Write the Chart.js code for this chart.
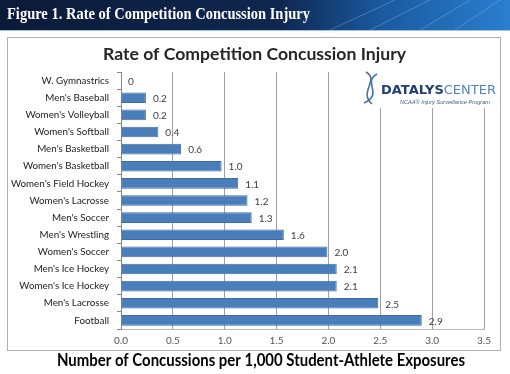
<!DOCTYPE html>
<html>
<head>
<meta charset="utf-8">
<script src="https://cdn.jsdelivr.net/npm/chart.js@4/dist/chart.umd.min.js"></script>
<style>
  html, body { margin: 0; padding: 0; background: #fff; }
  #wrap { width: 510px; height: 374px; }
</style>
</head>
<body>
<div id="wrap"><canvas id="chart" width="510" height="374"></canvas></div>
<script>
// sports, top to bottom as shown
const sports = [
    'W. Gymnastrics', "Men's Baseball", "Women's Volleyball", "Women's Softball",
    "Men's Basketball", "Women's Basketball", "Women's Field Hockey", "Women's Lacrosse",
    "Men's Soccer", "Men's Wrestling", "Women's Soccer", "Men's Ice Hockey",
    "Women's Ice Hockey", "Men's Lacrosse", 'Football'
];
// concussions per 1,000 athlete exposures (bar lengths)
const rates = [0, 0.24, 0.24, 0.36, 0.58, 0.97, 1.13, 1.22, 1.26, 1.57, 1.99, 2.08, 2.08, 2.48, 2.90];
// printed labels next to bars
const rateLabels = ['0', '0.2', '0.2', '0.4', '0.6', '1.0', '1.1', '1.2', '1.3', '1.6', '2.0', '2.1', '2.1', '2.5', '2.9'];
const xMax = 3.5;
const xStep = 0.5;

const figureTitle = 'Figure 1. Rate of Competition Concussion Injury';
const chartTitle = 'Rate of Competition Concussion Injury';
const axisTitle = 'Number of Concussions per 1,000 Student-Athlete Exposures';
const labelFont = 'Lato, "Open Sans", sans-serif';
const serifFont = '"Liberation Serif", "DejaVu Serif", serif';

// draw text squeezed/stretched horizontally to a given width
function fitText(ctx, text, x, y, width) {
    const w = ctx.measureText(text).width;
    ctx.save();
    ctx.translate(x, y);
    ctx.scale(width / w, 1);
    ctx.fillText(text, 0, 0);
    ctx.restore();
}

// banner, frame, titles, value labels and logo
const decor = {
    id: 'decor',
    beforeDraw(chart) {
        const ctx = chart.ctx;
        ctx.save();
        ctx.fillStyle = '#fff';
        ctx.fillRect(0, 0, chart.width, chart.height);

        // top banner
        const g = ctx.createLinearGradient(0, 0, chart.width, 0);
        g.addColorStop(0, '#0b1a38');
        g.addColorStop(0.55, '#0f2750');
        g.addColorStop(0.75, '#1a5aa0');
        g.addColorStop(1, '#2a7fcf');
        ctx.fillStyle = g;
        ctx.fillRect(0, 0, chart.width, 30);
        ctx.strokeStyle = 'rgba(160,200,240,0.35)';
        ctx.lineWidth = 1;
        [[330, 395], [370, 430], [420, 470], [455, 500]].forEach(([a, b]) => {
            ctx.beginPath();
            ctx.moveTo(b, 0);
            ctx.lineTo(a, 30);
            ctx.stroke();
        });
        ctx.fillStyle = '#9cc4e8';
        ctx.fillRect(0, 30, chart.width, 1);

        ctx.fillStyle = '#fff';
        ctx.font = 'bold 17px ' + serifFont;
        ctx.textBaseline = 'middle';
        fitText(ctx, figureTitle, 7, 15, 303);

        // chart frame
        ctx.strokeStyle = '#b0b0b0';
        ctx.strokeRect(7.5, 37.5, 493, 313);

        // titles
        ctx.fillStyle = '#262626';
        ctx.font = 'bold 17.5px ' + labelFont;
        fitText(ctx, chartTitle, 103, 54, 303);
        ctx.fillStyle = '#000';
        ctx.font = 'bold 16.5px ' + labelFont;
        fitText(ctx, axisTitle, 57, 361, 408);
        ctx.restore();
    },
    afterDatasetsDraw(chart) {
        const ctx = chart.ctx;
        ctx.save();
        ctx.font = '10px ' + labelFont;
        ctx.fillStyle = '#404040';
        ctx.textBaseline = 'middle';
        chart.getDatasetMeta(0).data.forEach((bar, i) => {
            ctx.fillText(rateLabels[i], bar.x + 7, bar.y + 1);
        });

        // logo block (covers grid lines behind it)
        ctx.fillStyle = '#fff';
        ctx.fillRect(356, 70, 135, 38);
        ctx.lineWidth = 1.6;
        ctx.strokeStyle = '#5a6f88';
        ctx.beginPath();
        ctx.moveTo(366, 72);
        ctx.bezierCurveTo(380, 80, 358, 92, 372, 104);
        ctx.stroke();
        ctx.strokeStyle = '#3b72b0';
        ctx.beginPath();
        ctx.moveTo(377, 74);
        ctx.bezierCurveTo(362, 82, 384, 94, 364, 103);
        ctx.stroke();
        ctx.font = 'bold 13px "DejaVu Sans", sans-serif';
        ctx.fillStyle = '#1f3f72';
        ctx.textBaseline = 'alphabetic';
        ctx.fillText('DATALYS', 381, 94);
        const w = ctx.measureText('DATALYS').width;
        ctx.font = '13px "DejaVu Sans", sans-serif';
        ctx.fillStyle = '#4a86c6';
        ctx.fillText('CENTER', 381 + w, 94);
        ctx.font = 'italic 5.6px "Liberation Sans", sans-serif';
        ctx.fillStyle = '#3a5f8f';
        ctx.fillText('NCAA\u00ae Injury Surveillance Program', 400, 104);
        ctx.restore();
    }
};

new Chart(document.getElementById('chart'), {
    type: 'bar',
    data: {
        labels: sports,
        datasets: [{
            data: rates,
            backgroundColor: '#4a7ebb',
            borderColor: '#3d6ca6',
            borderWidth: 1,
            borderSkipped: 'left',
            categoryPercentage: 1,
            barPercentage: 0.62
        }]
    },
    options: {
        indexAxis: 'y',
        responsive: false,
        devicePixelRatio: 1,
        animation: false,
        layout: { padding: { left: 0, right: 26, top: 72, bottom: 0 } },
        scales: {
            x: {
                min: 0,
                max: xMax,
                ticks: {
                    stepSize: xStep,
                    padding: 6,
                    color: '#555',
                    font: { family: labelFont, size: 10 },
                    callback: v => Number(v).toFixed(1)
                },
                grid: { color: '#a0a0a0', drawTicks: false },
                border: { color: '#b8b8b8' },
                afterFit(scale) { scale.height = 45; }
            },
            y: {
                ticks: {
                    color: '#222',
                    padding: 8,
                    font: { family: labelFont, size: 9.8 }
                },
                grid: { drawOnChartArea: false, drawTicks: true, tickLength: 4, color: '#888', offset: true },
                border: { color: '#888' },
                afterFit(scale) { scale.width = 121; }
            }
        },
        plugins: {
            legend: { display: false },
            tooltip: { enabled: false },
            title: { display: false }
        }
    },
    plugins: [decor]
});
</script>
</body>
</html>
